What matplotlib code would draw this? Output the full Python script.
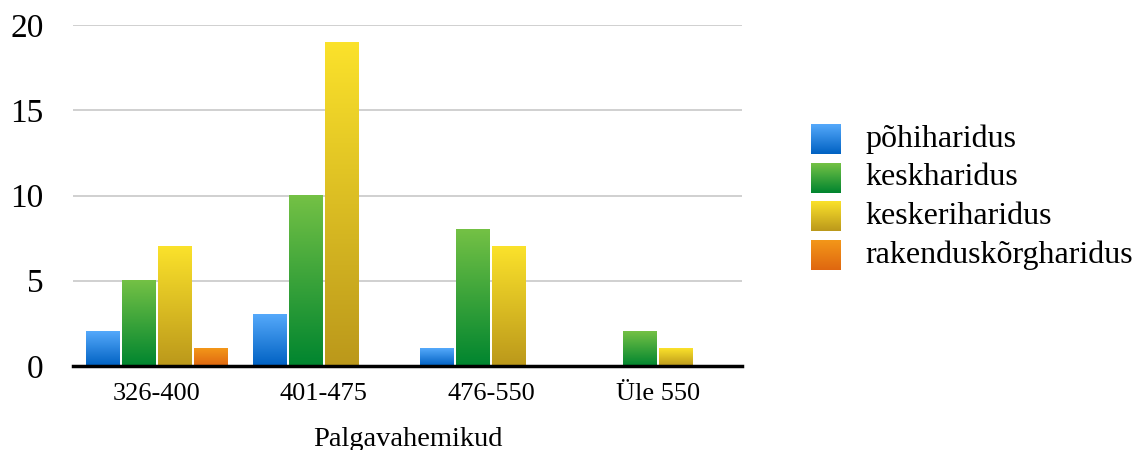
import matplotlib
matplotlib.use('Agg')
import matplotlib.pyplot as plt
import numpy as np
from matplotlib.colors import LinearSegmentedColormap

# palgavahemikud ja haridustasemete arvud
categories = ['326-400', '401-475', '476-550', 'Üle 550']
series_names = ['põhiharidus', 'keskharidus', 'keskeriharidus', 'rakenduskõrgharidus']
pohiharidus = [2, 3, 1, 0]
keskharidus = [5, 10, 8, 2]
keskeriharidus = [7, 19, 7, 1]
rakenduskorgharidus = [1, 0, 0, 0]
values = [pohiharidus, keskharidus, keskeriharidus, rakenduskorgharidus]

# gradient colours: (top, bottom)
grads = [('#55a9fb', '#0061c2'),
         ('#74c145', '#00852f'),
         ('#fbe22b', '#bb981b'),
         ('#f39719', '#df6710')]

plt.rcParams['font.family'] = ['Liberation Serif', 'DejaVu Serif']

fig = plt.figure(figsize=(11.36, 4.5), dpi=100)
ax = fig.add_axes([73/1136, 1-366/450, (742-73)/1136, (366-25)/450])

n = len(series_names)
width = 0.215
gap = 0.012
x = np.arange(len(categories))
grad = np.linspace(1, 0, 256).reshape(-1, 1)

for i, (vals, (top, bot)) in enumerate(zip(values, grads)):
    cmap = LinearSegmentedColormap.from_list('g%d' % i, [bot, top])
    offs = (i - (n-1)/2) * width
    for xi, v in zip(x, vals):
        if v <= 0:
            continue
        x0 = xi + offs - width/2 + gap/2
        x1 = xi + offs + width/2 - gap/2
        ax.imshow(grad, extent=[x0, x1, 0, v], aspect='auto', cmap=cmap,
                  vmin=0, vmax=1, zorder=2)

ax.set_xlim(-0.5, len(categories)-0.5)
ax.set_ylim(0, 20)
ax.set_yticks([0, 5, 10, 15, 20])
ax.set_xticks(x)
ax.set_xticklabels(categories, fontsize=19)
ax.tick_params(axis='y', labelsize=24, length=0, pad=21)
ax.tick_params(axis='x', length=0, pad=12)
ax.set_xlabel('Palgavahemikud', fontsize=20.5, labelpad=16)
for s in ['top', 'right', 'left']:
    ax.spines[s].set_visible(False)
ax.spines['bottom'].set_linewidth(2.5)
ax.spines['bottom'].set_zorder(5)
ax.grid(axis='y', color='#c8c8c8', linewidth=1.2, zorder=0)
ax.set_axisbelow(True)

# legend drawn by hand with gradient squares
for i, (name, (top, bot)) in enumerate(zip(series_names, grads)):
    yc = 139 + i*38.6
    lax = fig.add_axes([811/1136, 1-(yc+15)/450, 30/1136, 30/450])
    cmap = LinearSegmentedColormap.from_list('l%d' % i, [bot, top])
    lax.imshow(grad, aspect='auto', cmap=cmap, vmin=0, vmax=1)
    lax.axis('off')
    fig.text(865/1136, 1-yc/450, name, fontsize=23, va='center', ha='left')

fig.savefig('out.png', dpi=100)
